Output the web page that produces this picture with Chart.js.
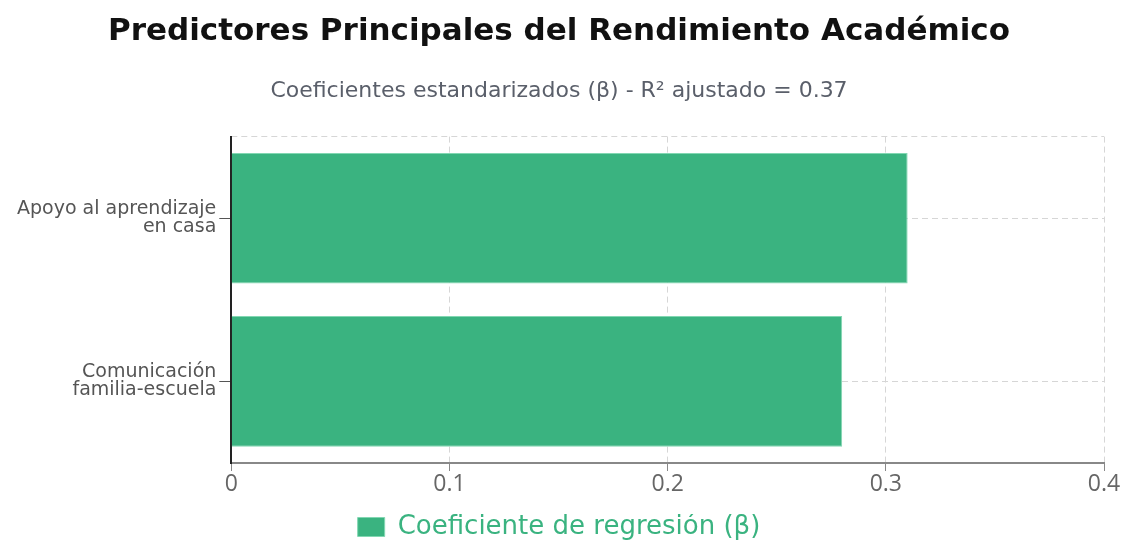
<!DOCTYPE html>
<html>
<head>
<meta charset="utf-8">
<script src="https://cdn.jsdelivr.net/npm/chart.js@4.4.1/dist/chart.umd.min.js"></script>
<style>
  html, body { margin: 0; padding: 0; background: #fff; }
  #wrap { width: 1126px; height: 540px; }
</style>
</head>
<body>
<div id="wrap"><canvas id="grafico"></canvas></div>
<script>
// datos
const categorias = [['Apoyo al aprendizaje', 'en casa'], ['Comunicación', 'familia-escuela']];
const coeficientes = [0.31, 0.28];
const etiquetaSerie = 'Coeficiente de regresión (β)';
const ticksX = [0, 0.1, 0.2, 0.3, 0.4];

const verde = 'rgb(58, 179, 128)';
const fuente = "'DejaVu Sans', 'Noto Sans', sans-serif";
const fuenteTicks = "'Open Sans', 'Noto Sans', sans-serif";
const gris = '#d6d6d6';

const ctx = document.getElementById('grafico');

const grafico = new Chart(ctx, {
    type: 'bar',
    data: {
        labels: categorias,
        datasets: [{
            label: etiquetaSerie,
            data: coeficientes,
            backgroundColor: verde,
            borderColor: 'rgba(130, 215, 178, 1)',
            borderWidth: 1,
            barPercentage: 0.8,
            categoryPercentage: 1
        }]
    },
    options: {
        indexAxis: 'y',
        responsive: true,
        maintainAspectRatio: false,
        animation: false,
        layout: { padding: { left: 14, right: 22, top: 13, bottom: 0 } },
        plugins: {
            title: {
                display: true,
                text: 'Predictores Principales del Rendimiento Académico',
                color: '#111',
                font: { family: fuente, size: 31, weight: 'bold' },
                padding: { top: 0, bottom: 28 }
            },
            subtitle: {
                display: true,
                text: 'Coeficientes estandarizados (β) - R² ajustado = 0.37',
                color: '#5a5f6a',
                font: { family: fuente, size: 22 },
                padding: { top: 0, bottom: 32 }
            },
            legend: {
                position: 'bottom',
                maxHeight: 26,
                labels: {
                    color: verde,
                    font: { family: fuente, size: 26 },
                    boxWidth: 27,
                    boxHeight: 19,
                    padding: 0
                }
            },
            tooltip: { enabled: false }
        },
        scales: {
            x: {
                min: 0,
                max: 0.4,
                afterBuildTicks: (scale) => {
                    scale.ticks = ticksX.map(v => ({ value: v }));
                },
                afterFit: (scale) => { scale.height = 51; },
                ticks: {
                    color: '#666',
                    font: { family: fuenteTicks, size: 23 },
                    padding: 0
                },
                grid: {
                    color: gris,
                    tickColor: '#888',
                    tickLength: 8
                },
                border: { display: true, color: '#888', width: 2, dash: [6, 4] }
            },
            y: {
                offset: true,
                ticks: {
                    color: '#555',
                    font: { family: fuente, size: 19, lineHeight: 0.95 },
                    padding: 3
                },
                grid: {
                    offset: false,
                    color: gris,
                    tickColor: '#555',
                    tickLength: 12
                },
                border: { display: true, color: '#222', width: 2, dash: [6, 4] }
            },
            // eje auxiliar: solo aporta la línea punteada superior del área
            yBorde: {
                type: 'linear',
                position: 'right',
                offset: false,
                min: 0,
                max: 1,
                afterBuildTicks: (scale) => {
                    scale.ticks = [{ value: 0 }, { value: 1 }];
                },
                ticks: { display: false },
                grid: { offset: false, color: gris, drawTicks: false },
                border: { display: false, dash: [6, 4] }
            }
        }
    }
});
</script>
</body>
</html>
